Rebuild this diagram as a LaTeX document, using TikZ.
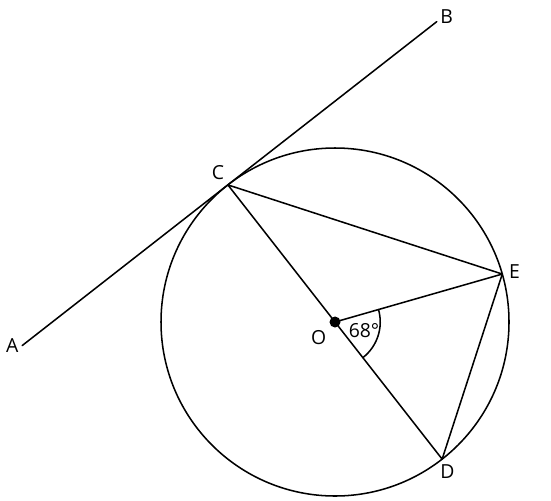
\documentclass[tikz,border=0pt]{standalone}
\usepackage{fontspec}
\setmainfont{Open Sans}
\begin{document}
\begin{tikzpicture}[scale=1, line join=round, line cap=round, line width=0.75pt, font=\fontsize{9.5}{11}\selectfont]
			\useasboundingbox (-5.776,-3.069) rectangle (3.724,5.552);
			\coordinate (O) at (0,0); \coordinate (C) at (128:3);
			\coordinate (D) at (-52:3); \coordinate (E) at (16:3);
			\coordinate (A) at (-5.393,-0.406);
			\coordinate (B) at (1.754,5.178);
			\draw (O) circle (3);
			\draw (A)--(B);
			\draw (C)--(D)--(E)--cycle;
			\draw (O)--(E);
			\draw (16:0.78) arc (16:-52:0.78);
			\fill (O) circle (0.095);
			\draw (A)  node[shift={(-0.17,0)}] {A};
			\draw (B)  node[shift={(0.17,0.09)}] {B};
			\draw (C)  node[shift={(-0.17,0.22)}] {C};
			\draw (O)  node[shift={(-0.28,-0.26)}] {O};
			\draw (E)  node[shift={(0.21,0.05)}] {E};
			\draw (D)  node[shift={(0.09,-0.21)}] {D};
			\draw (O)  node[shift={(0.5,-0.14)}] {68°};
		\end{tikzpicture}
\end{document}
